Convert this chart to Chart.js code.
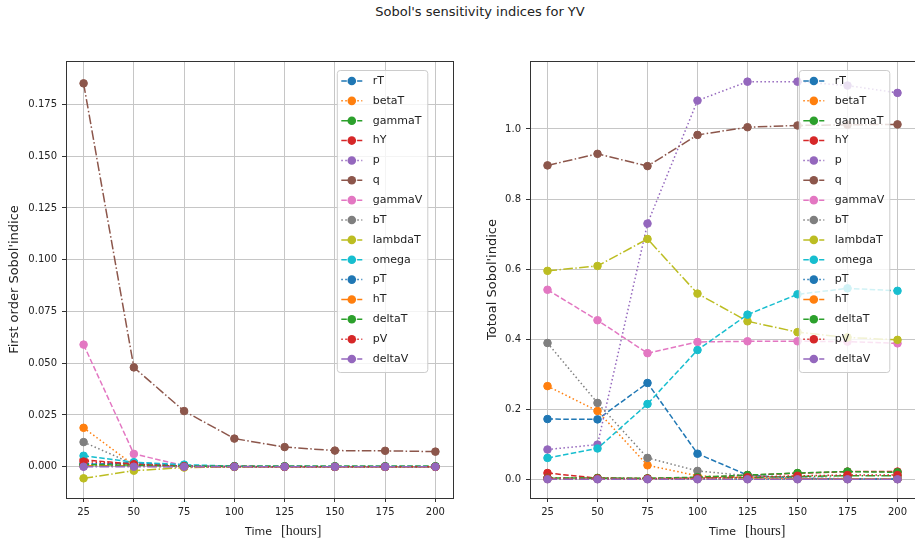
<!DOCTYPE html>
<html>
<head>
<meta charset="utf-8">
<script src="https://cdn.jsdelivr.net/npm/chart.js@4.4.1/dist/chart.umd.min.js"></script>
<style>
  html, body { margin: 0; padding: 0; background: #fff; overflow: hidden; }
  #page { position: relative; width: 915px; height: 543px; overflow: hidden; }
  #title { position: absolute; left: 0; top: 4px; width: 960px; text-align: center;
           font: 13px 'DejaVu Sans', sans-serif; color: #222; }
  canvas { position: absolute; top: 0; }
  #left { left: 0; }
  #right { left: 470px; }
</style>
</head>
<body>
<div id="page">
  <div id="title">Sobol's sensitivity indices for YV</div>
  <canvas id="left" width="460" height="543"></canvas>
  <canvas id="right" width="450" height="543"></canvas>
</div>
<script>
// time points (hours)
const TIMES = [25, 50, 75, 100, 125, 150, 175, 200];
const PARAMS = ['rT', 'betaT', 'gammaT', 'hY', 'p', 'q', 'gammaV', 'bT',
  'lambdaT', 'omega', 'pT', 'hT', 'deltaT', 'pV', 'deltaV'];
const COLORS = ['#1f77b4', '#ff7f0e', '#2ca02c', '#d62728', '#9467bd', '#8c564b',
  '#e377c2', '#7f7f7f', '#bcbd22', '#17becf', '#1f77b4', '#ff7f0e', '#2ca02c',
  '#d62728', '#9467bd'];
const STYLES = ['--', ':', '-.', '--', ':', '-.', '--', ':', '-.', '--', ':', '-.', '--', ':', '-.'];

const LEFT_Y_TICKS = [0, 0.025, 0.05, 0.075, 0.1, 0.125, 0.15, 0.175];
const RIGHT_Y_TICKS = [0, 0.2, 0.4, 0.6, 0.8, 1.0];

// first order indices
const S1_rT      = [0.0010, 0.0020, 0.0005, 0.0002, 0.0001, 0.0000, 0.0000, 0.0000];
const S1_betaT   = [0.0188, 0.0008, 0.0001, 0.0000, 0.0000, 0.0000, 0.0000, 0.0000];
const S1_gammaT  = [0.0005, 0.0003, 0.0001, 0.0000, 0.0000, 0.0000, 0.0000, 0.0000];
const S1_hY      = [0.0034, 0.0012, 0.0003, 0.0001, 0.0001, 0.0001, 0.0001, 0.0001];
const S1_p       = [0.0002, 0.0005, 0.0004, 0.0001, 0.0000, 0.0000, 0.0000, 0.0000];
const S1_q       = [0.1852, 0.0480, 0.0269, 0.0136, 0.0095, 0.0078, 0.0077, 0.0073];
const S1_gammaV  = [0.0590, 0.0062, 0.0005, 0.0001, 0.0000, 0.0000, 0.0000, 0.0000];
const S1_bT      = [0.0119, 0.0012, 0.0001, 0.0000, 0.0000, 0.0000, 0.0000, 0.0000];
const S1_lambdaT = [-0.0056, -0.0019, -0.0004, -0.0001, 0.0000, 0.0000, 0.0000, 0.0000];
const S1_omega   = [0.0053, 0.0022, 0.0010, 0.0003, 0.0002, 0.0002, 0.0002, 0.0002];
const S1_pT      = [0.0015, 0.0010, 0.0002, 0.0000, 0.0000, 0.0000, 0.0000, 0.0000];
const S1_hT      = [0.0005, 0.0003, 0.0000, 0.0000, 0.0000, 0.0000, 0.0000, 0.0000];
const S1_deltaT  = [0.0010, 0.0008, 0.0003, 0.0002, 0.0002, 0.0002, 0.0002, 0.0002];
const S1_pV      = [0.0025, 0.0012, 0.0002, 0.0001, 0.0000, 0.0000, 0.0000, 0.0000];
const S1_deltaV  = [0.0000, 0.0000, 0.0000, 0.0000, 0.0000, 0.0000, 0.0000, 0.0000];

// total indices
const ST_rT      = [0.172, 0.171, 0.275, 0.073, 0.012, 0.003, 0.001, 0.001];
const ST_betaT   = [0.266, 0.195, 0.040, 0.010, 0.004, 0.002, 0.001, 0.001];
const ST_gammaT  = [0.003, 0.004, 0.002, 0.003, 0.005, 0.008, 0.010, 0.010];
const ST_hY      = [0.018, 0.003, 0.002, 0.004, 0.012, 0.017, 0.022, 0.022];
const ST_p       = [0.085, 0.099, 0.730, 1.081, 1.135, 1.135, 1.124, 1.103];
const ST_q       = [0.896, 0.929, 0.894, 0.983, 1.005, 1.010, 1.012, 1.013];
const ST_gammaV  = [0.541, 0.454, 0.360, 0.392, 0.394, 0.394, 0.393, 0.388];
const ST_bT      = [0.389, 0.218, 0.061, 0.024, 0.010, 0.004, 0.002, 0.001];
const ST_lambdaT = [0.595, 0.609, 0.686, 0.530, 0.451, 0.420, 0.405, 0.398];
const ST_omega   = [0.061, 0.088, 0.215, 0.369, 0.470, 0.528, 0.545, 0.538];
const ST_pT      = [0.002, 0.001, 0.001, 0.001, 0.001, 0.001, 0.001, 0.001];
const ST_hT      = [0.001, 0.001, 0.001, 0.001, 0.001, 0.001, 0.001, 0.001];
const ST_deltaT  = [0.004, 0.003, 0.003, 0.006, 0.012, 0.018, 0.022, 0.020];
const ST_pV      = [0.003, 0.002, 0.002, 0.003, 0.006, 0.010, 0.012, 0.012];
const ST_deltaV  = [0.000, 0.000, 0.000, 0.000, 0.000, 0.000, 0.000, 0.000];

const FIRST = [S1_rT, S1_betaT, S1_gammaT, S1_hY, S1_p, S1_q, S1_gammaV, S1_bT,
  S1_lambdaT, S1_omega, S1_pT, S1_hT, S1_deltaT, S1_pV, S1_deltaV];
const TOTAL = [ST_rT, ST_betaT, ST_gammaT, ST_hY, ST_p, ST_q, ST_gammaV, ST_bT,
  ST_lambdaT, ST_omega, ST_pT, ST_hT, ST_deltaT, ST_pV, ST_deltaV];

const DASH = { '--': [5.5, 2.4], ':': [1.5, 2.5], '-.': [9.6, 2.4, 1.5, 2.4] };

// spines, axis labels and the in-axes legend
const decor = {
  id: 'decor',
  afterDraw(chart, args, opts) {
    const ctx = chart.ctx;
    const a = chart.chartArea;
    ctx.save();
    ctx.strokeStyle = '#333';
    ctx.lineWidth = 1;
    ctx.strokeRect(Math.round(a.left) + 0.5, Math.round(a.top) + 0.5,
      Math.round(a.right - a.left), Math.round(a.bottom - a.top));

    // y label
    ctx.fillStyle = '#222';
    ctx.save();
    ctx.translate(opts.yLabelX, (a.top + a.bottom) / 2);
    ctx.rotate(-Math.PI / 2);
    ctx.font = "13px 'DejaVu Sans'";
    ctx.textAlign = 'center';
    ctx.textBaseline = 'middle';
    ctx.fillText(opts.yLabel, 0, 0);
    ctx.restore();

    // x label
    ctx.textAlign = 'left';
    ctx.textBaseline = 'alphabetic';
    ctx.font = "11px 'DejaVu Sans'";
    ctx.fillText('Time', a.left + 179, 535);
    ctx.font = "14px 'Liberation Serif'";
    ctx.fillText('[hours]', a.left + 215, 535);

    // legend
    const w = 90.5, h = 302;
    const lx = a.right - 25.7 - w, ly = a.top + 9;
    ctx.beginPath();
    ctx.roundRect(lx + 0.5, ly + 0.5, w, h, 3);
    ctx.fillStyle = 'rgba(255,255,255,0.8)';
    ctx.fill();
    ctx.strokeStyle = '#cccccc';
    ctx.stroke();
    ctx.font = "11px 'DejaVu Sans'";
    ctx.textBaseline = 'middle';
    PARAMS.forEach((name, i) => {
      const y = ly + 11 + i * 19.86;
      ctx.strokeStyle = COLORS[i];
      ctx.lineWidth = 1.5;
      ctx.setLineDash(DASH[STYLES[i]]);
      ctx.beginPath();
      ctx.moveTo(lx + 4.5, y);
      ctx.lineTo(lx + 25.5, y);
      ctx.stroke();
      ctx.setLineDash([]);
      ctx.beginPath();
      ctx.arc(lx + 15, y, 4.3, 0, Math.PI * 2);
      ctx.fillStyle = COLORS[i];
      ctx.fill();
      ctx.fillStyle = '#222';
      ctx.fillText(name, lx + 36, y);
    });
    ctx.restore();
  }
};

function makeChart(id, series, yMin, yMax, yTicks, digits, yLabel, yLabelX, yWidth, padRight) {
  const datasets = series.map((vals, i) => ({
    label: PARAMS[i],
    data: TIMES.map((t, j) => ({ x: t, y: vals[j] })),
    borderColor: COLORS[i],
    backgroundColor: COLORS[i],
    borderWidth: 1.5,
    borderDash: DASH[STYLES[i]],
    pointRadius: 3.8,
    pointBorderWidth: 1,
    pointBackgroundColor: COLORS[i],
    pointBorderColor: COLORS[i],
    tension: 0,
    order: series.length - 1 - i
  }));

  return new Chart(document.getElementById(id), {
    type: 'line',
    data: { datasets },
    plugins: [decor],
    options: {
      responsive: false,
      animation: false,
      devicePixelRatio: 1,
      layout: { padding: { top: 61, right: padRight, left: 0, bottom: 0 } },
      plugins: {
        legend: { display: false },
        tooltip: { enabled: false },
        decor: { yLabel, yLabelX }
      },
      scales: {
        x: {
          type: 'linear',
          min: 16.25,
          max: 208.75,
          afterBuildTicks: s => { s.ticks = TIMES.map(v => ({ value: v })); },
          afterFit: s => { s.height = 45; },
          grid: { color: '#c6c6c6', lineWidth: 1, tickColor: '#333', tickLength: 4 },
          border: { display: false },
          ticks: { color: '#222', font: { family: 'DejaVu Sans', size: 10 }, padding: 4,
                   maxRotation: 0, callback: v => String(v) }
        },
        y: {
          min: yMin,
          max: yMax,
          afterBuildTicks: s => { s.ticks = yTicks.map(v => ({ value: v })); },
          afterFit: s => { s.width = yWidth; },
          grid: { color: '#c6c6c6', lineWidth: 1, tickColor: '#333', tickLength: 4 },
          border: { display: false },
          ticks: { color: '#222', font: { family: 'DejaVu Sans', size: 10 }, padding: 5,
                   callback: v => Number(v).toFixed(digits) }
        }
      }
    }
  });
}

makeChart('left', FIRST, -0.0151, 0.196, LEFT_Y_TICKS, 3, "First order Sobol'indice", 15, 66, 7);
makeChart('right', TOTAL, -0.0534, 1.194, RIGHT_Y_TICKS, 1, "Totoal Sobol'indice", 23, 60, 3.4);
</script>
</body>
</html>
